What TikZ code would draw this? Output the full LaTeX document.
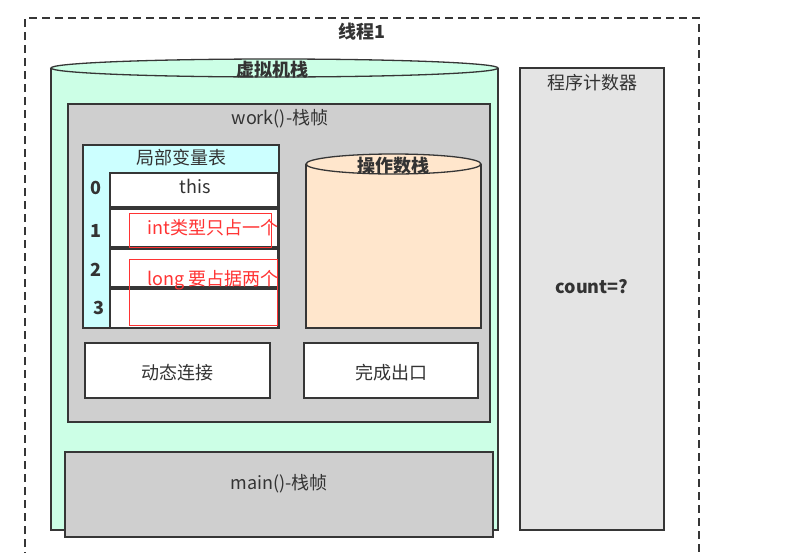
\documentclass[tikz,border=0pt]{standalone}
\usepackage{fontspec}
\setmainfont{Noto Sans CJK SC}
\usetikzlibrary{positioning}
\definecolor{stackgreen}{RGB}{204,255,230}
\definecolor{framegray}{RGB}{207,207,207}
\definecolor{localcyan}{RGB}{204,255,255}
\definecolor{operandorange}{RGB}{255,230,204}
\definecolor{countergray}{RGB}{228,228,228}
\definecolor{edgegray}{RGB}{54,54,54}
\definecolor{textgray}{RGB}{51,51,51}
\definecolor{noteRed}{RGB}{255,51,51}

\begin{document}
\begin{tikzpicture}[x=1pt,y=-1pt,line width=1.3pt,
  box/.style={draw=edgegray},
  lbl/.style={text=textgray,inner sep=0pt,font=\fontsize{18}{20}\selectfont},
  bold/.style={lbl,font=\fontsize{18}{20}\selectfont\bfseries},
  note/.style={draw=noteRed,line width=0.8pt}]
				\useasboundingbox (0,0) rectangle (802,552);
				% thread frame
				\draw[edgegray,dash pattern=on 8pt off 5pt] (25,560) -- (25,18) -- (699,18) -- (699,560);
				\node[bold] (thread) at (362,32) {线程1};
				% virtual machine stack
				\fill[stackgreen] (51,68) rectangle (498,530);
				\draw[box] (51,68) -- (51,530) -- (498,530) -- (498,68);
				\filldraw[box,fill=stackgreen] (274.5,68) ellipse (223.5 and 9);
				\node[bold] (vmstack) at (272,70) {虚拟机栈};
				% work() frame
				\filldraw[box,fill=framegray] (68,104) rectangle (490,422);
				\node[lbl] (work) at (280,119) {work()-栈帧};
				% local variables
				\filldraw[box,fill=localcyan] (83,145) rectangle (279,328);
				\node[lbl] (locals) at (181,158) {局部变量表};
				\filldraw[box,fill=white] (110,173) rectangle (278,207);
				\filldraw[box,fill=white] (110,209) rectangle (278,247);
				\filldraw[box,fill=white] (110,249) rectangle (278,287);
				\filldraw[box,fill=white] (110,289) rectangle (278,328);
				\node[lbl] (this) at (195,186) {this};
				\node[bold] (slot0) at (96,188) {0};
				\node[bold] (slot1) at (96,231) {1};
				\node[bold] (slot2) at (96,270) {2};
				\node[bold] (slot3) at (99,308) {3};
				% notes
				\draw[note] (129,213) rectangle (271,247);
				\node[lbl,text=noteRed,anchor=west] (intnote) at (147,228) {int类型只占一个};
				\draw[note] (129,259) rectangle (277,325);
				\node[lbl,text=noteRed,anchor=west] (longnote) at (147,280) {long 要占据两个};
				% operand stack
				\fill[operandorange] (306,164) rectangle (481,328);
				\draw[box] (306,164) -- (306,328) -- (481,328) -- (481,164);
				\filldraw[box,fill=operandorange] (393.5,164) ellipse (87.5 and 10);
				\node[bold] (operand) at (393,166) {操作数栈};
				% link and exit
				\filldraw[box,fill=white] (85,343) rectangle (270,398);
				\node[lbl] (dynlink) at (177.5,373) {动态连接};
				\filldraw[box,fill=white] (304,343) rectangle (478,398);
				\node[lbl] (exit) at (391,373) {完成出口};
				% main() frame
				\filldraw[box,fill=framegray] (65,452) rectangle (493,537);
				\node[lbl] (main) at (279,484) {main()-栈帧};
				% program counter
				\filldraw[box,fill=countergray] (520,68) rectangle (664,530);
				\node[lbl] (pc) at (592,83) {程序计数器};
				\node[bold] (count) at (592,287) {count=?};
			\end{tikzpicture}
\end{document}
